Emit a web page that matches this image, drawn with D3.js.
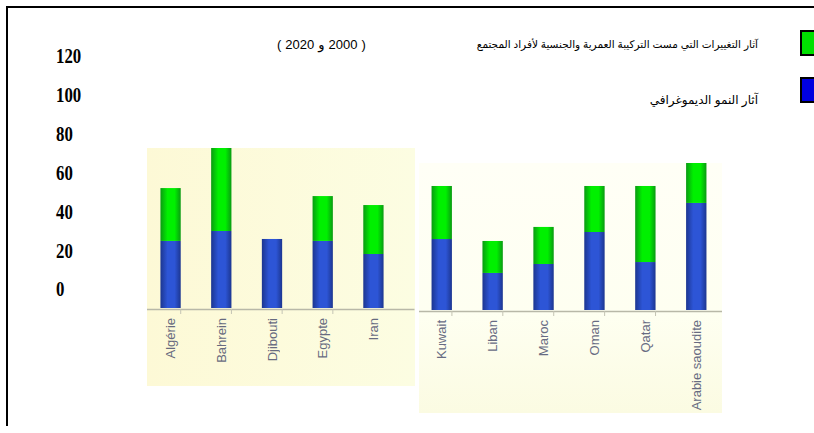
<!DOCTYPE html>
<html>
<head>
<meta charset="utf-8">
<script src="https://cdn.jsdelivr.net/npm/d3@7"></script>
<style>
  body { margin: 0; background: #fff; }
  svg { display: block; }
</style>
</head>
<body>
<div id="chart"></div>
<script>
// two scanned panels of the same chart
var leftCats = ["Algérie", "Bahrein", "Djibouti", "Egypte", "Iran"];
var leftBlue = [34.4, 39.5, 35.4, 34.4, 27.7];
var leftGreen = [27.1, 48.5, 0, 23.0, 25.1];

var rightCats = ["Kuwait", "Liban", "Maroc", "Oman", "Qatar", "Arabie saoudite"];
var rightBlue = [36.4, 19.0, 23.6, 40.0, 24.6, 54.9];
var rightGreen = [27.2, 16.4, 19.0, 23.6, 39.0, 25.0];

var yTicks = [0, 20, 40, 60, 80, 100, 120];
var legendLabels = [
  "آثار التغييرات التي مست التركيبة العمرية والجنسية لأفراد المجتمع",
  "آثار النمو الديموغرافي"
];
var periodYears = ["2000", "2020"];

var width = 814, height = 433;
var pxPerUnit = 1.95;

var svg = d3.select("#chart")
    .append("svg")
    .attr("width", width)
    .attr("height", height);

var defs = svg.append("defs");

function barGradient(id, edge, mid) {
    var g = defs.append("linearGradient")
        .attr("id", id)
        .attr("x1", "0%").attr("x2", "100%")
        .attr("y1", "0%").attr("y2", "0%");
    g.append("stop").attr("offset", "0%").attr("stop-color", edge);
    g.append("stop").attr("offset", "35%").attr("stop-color", mid);
    g.append("stop").attr("offset", "70%").attr("stop-color", mid);
    g.append("stop").attr("offset", "100%").attr("stop-color", edge);
}
barGradient("gGreen", "#0a9a12", "#00f000");
barGradient("gBlue", "#1c3690", "#2d55d6");

var bgLeft = defs.append("linearGradient").attr("id", "bgLeft")
    .attr("x1", "0%").attr("x2", "100%").attr("y1", "0%").attr("y2", "0%");
bgLeft.append("stop").attr("offset", "0%").attr("stop-color", "#fdf9d6");
bgLeft.append("stop").attr("offset", "100%").attr("stop-color", "#fcfde2");

var bgRight = defs.append("linearGradient").attr("id", "bgRight")
    .attr("x1", "0%").attr("x2", "0%").attr("y1", "0%").attr("y2", "100%");
bgRight.append("stop").attr("offset", "0%").attr("stop-color", "#fffff6");
bgRight.append("stop").attr("offset", "60%").attr("stop-color", "#fefff1");
bgRight.append("stop").attr("offset", "100%").attr("stop-color", "#fbfbe2");

// frame
svg.append("line")
    .attr("x1", 6).attr("y1", 7).attr("x2", width).attr("y2", 7)
    .attr("stroke", "#000").attr("stroke-width", 2);
svg.append("line")
    .attr("x1", 7).attr("y1", 6).attr("x2", 7).attr("y2", 426)
    .attr("stroke", "#000").attr("stroke-width", 2);

// y labels (standalone column)
var yLab = d3.scaleLinear().domain([0, 120]).range([289, 56]);
svg.append("g")
    .selectAll("g")
    .data(yTicks)
    .enter().append("g")
    .attr("transform", function(d) { return "translate(56," + yLab(d) + ") scale(0.8,1)"; })
    .append("text")
    .attr("dy", "0.35em")
    .style("font-family", "'Liberation Serif', 'DejaVu Serif', serif")
    .style("font-weight", "bold")
    .style("font-size", "21px")
    .style("fill", "#000")
    .text(function(d) { return d; });

// legend
svg.append("rect")
    .attr("x", 801).attr("y", 31).attr("width", 16).attr("height", 24)
    .attr("fill", "#00e000").attr("stroke", "#000").attr("stroke-width", 2);
svg.append("rect")
    .attr("x", 801).attr("y", 78).attr("width", 16).attr("height", 24)
    .attr("fill", "#0000e0").attr("stroke", "#000").attr("stroke-width", 2);

svg.selectAll(".legText")
    .data(legendLabels)
    .enter().append("text")
    .attr("class", "legText")
    .attr("x", 758)
    .attr("y", function(d, i) { return i === 0 ? 44 : 100; })
    .attr("dy", "0.35em")
    .attr("text-anchor", "end")
    .style("font-family", "'Liberation Sans', 'DejaVu Sans', sans-serif")
    .style("font-size", function(d, i) { return i === 0 ? "10.5px" : "12px"; })
    .style("fill", "#000")
    .text(function(d) { return d; });

// "( 2000 و 2020 )" read right to left, so laid out piece by piece from the left
var periodParts = ["(", periodYears[1], "\u0648", periodYears[0], ")"];
var px = 277;
periodParts.forEach(function(p) {
    var t = svg.append("text")
        .attr("x", px)
        .attr("y", 44)
        .attr("dy", "0.35em")
        .style("font-family", "'Liberation Sans', 'DejaVu Sans', sans-serif")
        .style("font-size", "13px")
        .style("fill", "#000")
        .text(p);
    px += t.node().getComputedTextLength() + 4;
});

function drawPanel(id, cats, blue, green, box, xRange, baseline, bg) {
    var x = d3.scaleBand().domain(cats).range(xRange).padding(0.6);
    var y = d3.scaleLinear().domain([0, 100]).range([baseline, baseline - 100 * pxPerUnit]);

    defs.append("clipPath").attr("id", id)
        .append("rect")
        .attr("x", box.x0).attr("y", box.y0)
        .attr("width", box.x1 - box.x0).attr("height", box.y1 - box.y0);

    var g = svg.append("g").attr("clip-path", "url(#" + id + ")");
    g.append("rect")
        .attr("x", box.x0).attr("y", box.y0)
        .attr("width", box.x1 - box.x0).attr("height", box.y1 - box.y0)
        .attr("fill", "url(#" + bg + ")");

    var rows = cats.map(function(c, i) {
        return { cat: c, blue: blue[i], green: green[i] };
    });

    // axis line at the bottom of the bars
    var axis = g.append("g")
        .attr("transform", "translate(0," + (baseline + 1) + ")")
        .call(d3.axisBottom(x).tickSize(0).tickFormat(""));
    axis.select(".domain").attr("stroke", "#b8b8a8").attr("stroke-width", 1.5);

    g.selectAll(".tk")
        .data(cats.slice(1))
        .enter().append("line")
        .attr("class", "tk")
        .attr("x1", function(d) { return x(d) - x.step() * x.paddingInner() / 2 - x.bandwidth() * 0.75; })
        .attr("x2", function(d) { return x(d) - x.step() * x.paddingInner() / 2 - x.bandwidth() * 0.75; })
        .attr("y1", baseline + 1).attr("y2", baseline + 6)
        .attr("stroke", "#c4c4b4");

    g.selectAll(".blueBar")
        .data(rows)
        .enter().append("rect")
        .attr("class", "blueBar")
        .attr("x", function(d) { return x(d.cat); })
        .attr("width", x.bandwidth())
        .attr("y", function(d) { return y(d.blue); })
        .attr("height", function(d) { return baseline - y(d.blue); })
        .attr("fill", "url(#gBlue)");

    g.selectAll(".greenBar")
        .data(rows)
        .enter().append("rect")
        .attr("class", "greenBar")
        .attr("x", function(d) { return x(d.cat); })
        .attr("width", x.bandwidth())
        .attr("y", function(d) { return y(d.blue + d.green); })
        .attr("height", function(d) { return y(d.blue) - y(d.blue + d.green); })
        .attr("fill", "url(#gGreen)");

    g.selectAll(".catLabel")
        .data(cats)
        .enter().append("text")
        .attr("class", "catLabel")
        .attr("transform", function(d) {
            return "translate(" + (x(d) + x.bandwidth() / 2) + "," + (baseline + 10) + ") rotate(-90)";
        })
        .attr("dy", "0.35em")
        .attr("text-anchor", "end")
        .style("font-family", "'Liberation Sans Narrow', 'Liberation Sans', sans-serif")
        .style("font-size", "13px")
        .style("fill", "#4d5270")
        .style("opacity", 0.85)
        .text(function(d) { return d; });
}

drawPanel("clipL", leftCats, leftBlue, leftGreen,
    { x0: 147, x1: 415, y0: 148, y1: 386 }, [130, 414], 308, "bgLeft");
drawPanel("clipR", rightCats, rightBlue, rightGreen,
    { x0: 419, x1: 722, y0: 163, y1: 413 }, [401, 737], 310, "bgRight");
</script>
</body>
</html>
